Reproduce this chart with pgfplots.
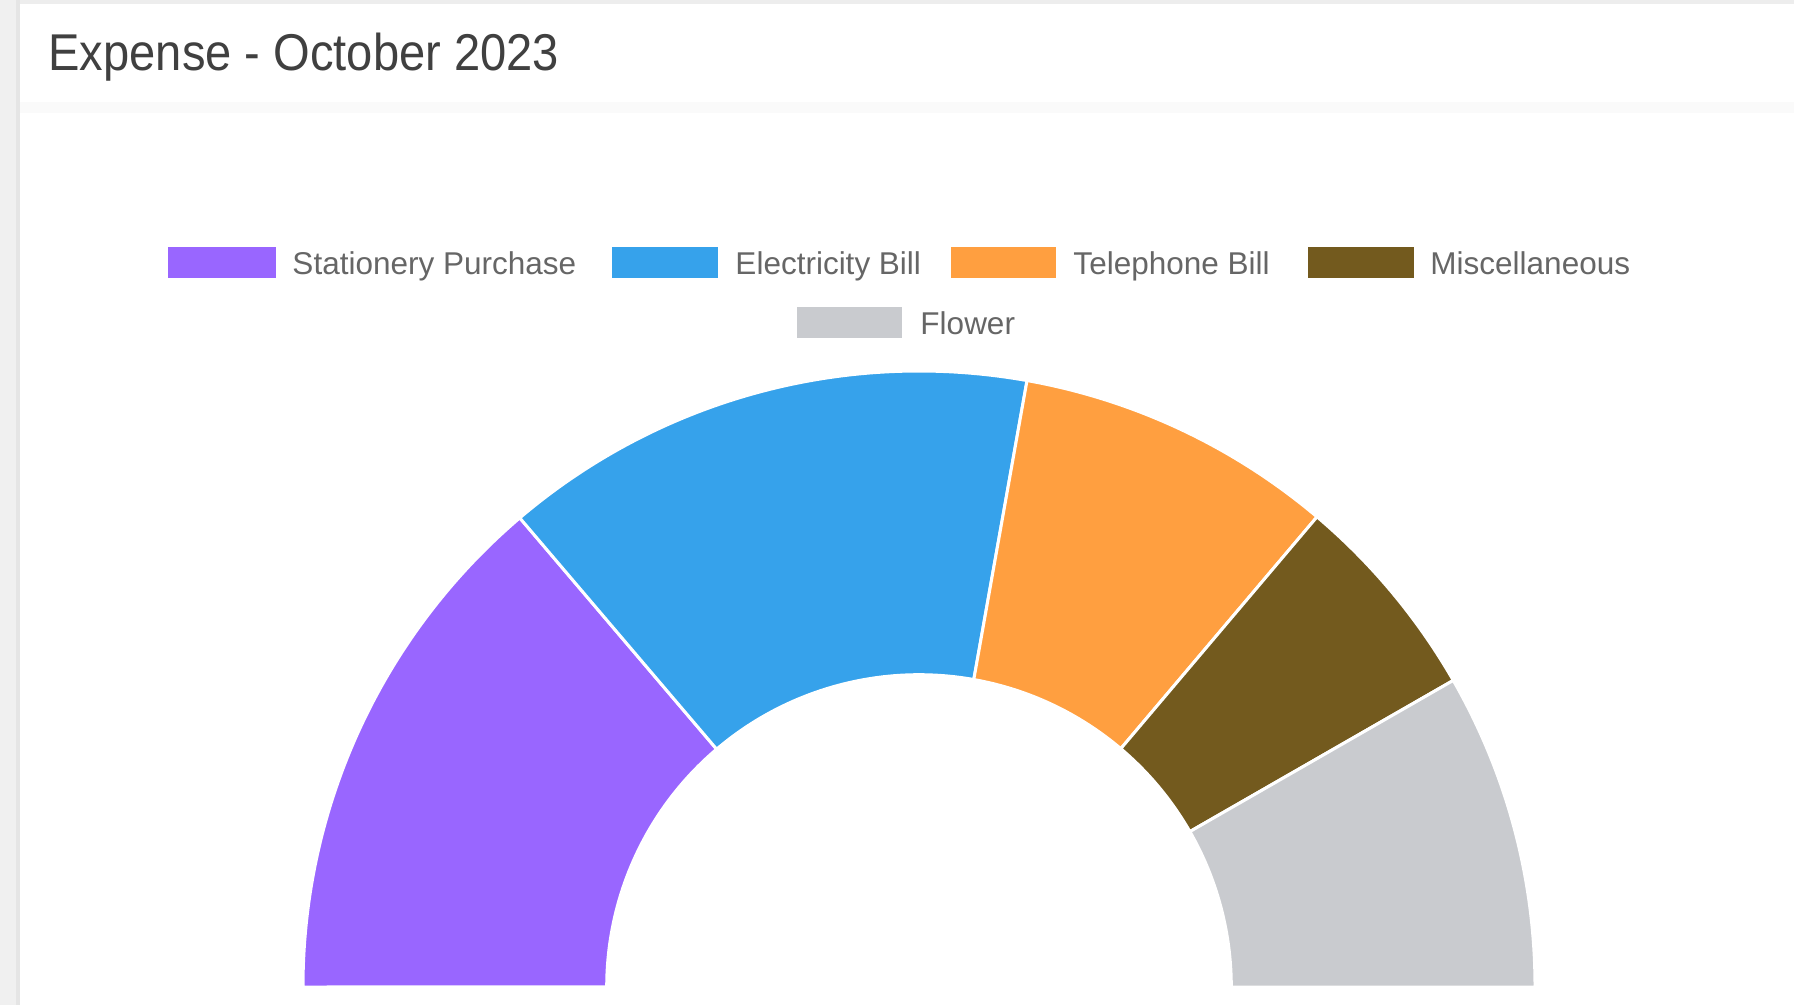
\documentclass[border=0pt]{standalone}
\usepackage{pgfplots}
\pgfplotsset{compat=1.18}
\usepackage{pgfplotstable}
\usepackage{fontspec}
\setmainfont{Liberation Sans}
\newfontfamily\titlefont[FakeStretch=0.91]{Liberation Sans}

\definecolor{col0}{HTML}{9966FF}
\definecolor{col1}{HTML}{36A2EB}
\definecolor{col2}{HTML}{FF9F40}
\definecolor{col3}{HTML}{735A1E}
\definecolor{col4}{HTML}{C9CBCF}
\definecolor{legtext}{HTML}{666666}
\definecolor{titletext}{HTML}{404040}

% Expense shares (relative amounts read from the half doughnut)
\pgfplotstableread[col sep=comma]{
name,value
Stationery Purchase,49.6
Electricity Bill,50.5
Telephone Bill,30.15
Miscellaneous,19.9
Flower,29.85
}\expensedata

% total
\gdef\total{0}
\foreach \i in {0,...,4}{%
  \pgfplotstablegetelem{\i}{value}\of\expensedata
  \let\myval\pgfplotsretval
  \pgfmathsetmacro\tmpsum{\total+\myval}%
  \global\let\total\tmpsum
}
\pgfmathsetmacro\degfactor{180/\total}
% start / end angles (half doughnut, from 180 deg clockwise to 0 deg)
\gdef\cum{0}
\foreach \i in {0,...,4}{%
  \pgfplotstablegetelem{\i}{value}\of\expensedata
  \let\myval\pgfplotsretval
  \pgfmathsetmacro\aS{180-\cum*\degfactor}%
  \pgfmathsetmacro\newcum{\cum+\myval}%
  \pgfmathsetmacro\aE{180-\newcum*\degfactor}%
  \expandafter\xdef\csname aS\i\endcsname{\aS}%
  \expandafter\xdef\csname aE\i\endcsname{\aE}%
  \global\let\cum\newcum
}

\def\Ro{1}
\def\Ri{0.507}
\def\RoDim{246.4pt}
\def\RiDim{124.9pt}

\begin{document}
\begin{tikzpicture}
  \fill[white] (0pt,0pt) rectangle (717.6pt,402pt);
  \useasboundingbox (0pt,0pt) rectangle (717.6pt,402pt);
  \begin{scope}[x=0.4pt,y=0.4pt]
  % page decorations
  \fill[black!6] (0,0) rectangle (20,1005);
  \fill[black!10] (16,0) rectangle (20,1005);
  \fill[black!7] (20,1001) rectangle (1794,1005);
  \fill[black!2] (20,892) rectangle (1794,903);
  % title
  \node[anchor=base west, inner sep=0pt, text=titletext]
    at (48,935) {\titlefont\fontsize{20.7}{24}\selectfont Expense - October 2023};

  % legend
  \begin{scope}[every node/.style={anchor=base west, inner sep=0pt, text=legtext,
      font=\fontsize{12.6}{15}\selectfont}]
    \fill[col0] (168,727) rectangle (276,758);
    \node at (292,731) {Stationery Purchase};
    \fill[col1] (612,727) rectangle (718,758);
    \node at (735,731) {Electricity Bill};
    \fill[col2] (951,727) rectangle (1056,758);
    \node at (1073,731) {Telephone Bill};
    \fill[col3] (1308,727) rectangle (1414,758);
    \node at (1430,731) {Miscellaneous};
    \fill[col4] (797,667) rectangle (902,698);
    \node at (920,670.5) {Flower};
  \end{scope}
  \end{scope}

  \begin{axis}[
      at={(367.6pt,7.2pt)}, anchor=origin,
      x=246.4pt, y=246.4pt,
      xmin=-1.2, xmax=1.2, ymin=0, ymax=1.1,
      hide axis, clip=false,
    ]
    \pgfplotsinvokeforeach{0,...,4}{
      \fill[fill=col#1, draw=white, line width=1.2pt, line join=round]
        (axis cs:{\Ro*cos(\csname aS#1\endcsname)},{\Ro*sin(\csname aS#1\endcsname)})
        arc[start angle=\csname aS#1\endcsname, end angle=\csname aE#1\endcsname, radius=\RoDim]
        -- (axis cs:{\Ri*cos(\csname aE#1\endcsname)},{\Ri*sin(\csname aE#1\endcsname)})
        arc[start angle=\csname aE#1\endcsname, end angle=\csname aS#1\endcsname, radius=\RiDim]
        -- cycle;
    }
  \end{axis}
\end{tikzpicture}
\end{document}
